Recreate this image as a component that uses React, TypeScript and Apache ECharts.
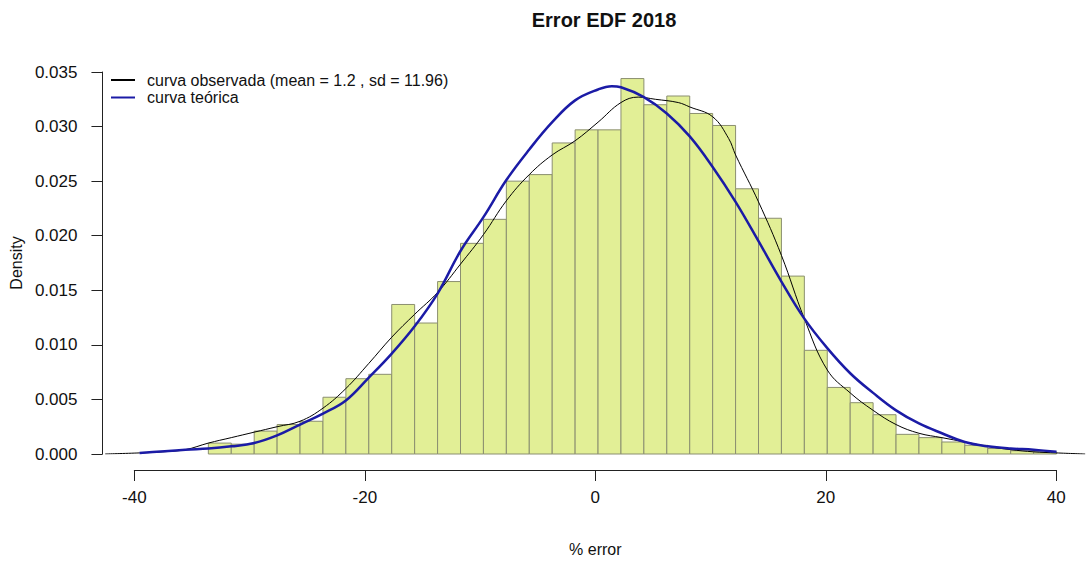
import React, { useEffect, useRef } from "react";
import * as echarts from "echarts";

// Histogram bins (left edge, right edge) and densities
const binStarts = [-34, -32, -30, -28, -26, -24, -22, -20, -18, -16, -14, -12, -10, -8, -6, -4, -2, 0, 2, 4, 6, 8, 10, 12, 14, 16, 18, 20, 22, 24, 26, 28, 30, 32, 34, 36, 38];
const binWidth = 2;
const binDensity = [0.0010, 0.0009, 0.0021, 0.0027, 0.0030, 0.0052, 0.0069, 0.0073, 0.0137, 0.0120, 0.0158, 0.0193, 0.0215, 0.0250, 0.0256, 0.0285, 0.0297, 0.0297, 0.0344, 0.0320, 0.0328, 0.0312, 0.0301, 0.0243, 0.0216, 0.0163, 0.0095, 0.0061, 0.0047, 0.0036, 0.0018, 0.0015, 0.0011, 0.0008, 0.0005, 0.0003, 0.0002];

const obsX = [-43, -40, -38, -36, -34, -32, -30, -28, -26, -24, -22, -20, -18, -16, -14, -12, -10, -8, -6, -4, -2, 0, 2, 3.5, 5, 7, 8, 10, 11.4, 12, 14, 16, 18, 20, 22, 24, 26, 28, 30, 32, 34, 36, 38, 40, 42.5];
const obsY = [0.0000, 0.0001, 0.0002, 0.0004, 0.0010, 0.0015, 0.0020, 0.0025, 0.0030, 0.0042, 0.0060, 0.0083, 0.0107, 0.0128, 0.0148, 0.0174, 0.0201, 0.0232, 0.0256, 0.0274, 0.0287, 0.0304, 0.0322, 0.0327, 0.0325, 0.0322, 0.0318, 0.0309, 0.0289, 0.0274, 0.0231, 0.0182, 0.0124, 0.0077, 0.0056, 0.0040, 0.0027, 0.0019, 0.0015, 0.0011, 0.0007, 0.0004, 0.0002, 0.0001, 0.0000];

// Theoretical curve
const theoX = [-40, -36, -34, -32, -30, -28, -26, -24, -22, -20, -18, -16, -14, -12, -10, -8, -6, -4, -2, 0, 1.2, 2, 4, 6, 8, 10, 12, 14, 16, 18, 20, 22, 24, 26, 28, 30, 32, 34, 36, 38, 40];
const theoY = [0.0001, 0.0004, 0.0005, 0.0007, 0.0010, 0.0017, 0.0027, 0.0037, 0.0049, 0.0070, 0.0092, 0.0117, 0.0147, 0.0186, 0.0217, 0.0251, 0.0279, 0.0304, 0.0324, 0.0334, 0.0337, 0.0336, 0.0327, 0.0312, 0.0291, 0.0263, 0.0231, 0.0195, 0.0158, 0.0124, 0.0097, 0.0074, 0.0056, 0.0040, 0.0028, 0.0019, 0.0011, 0.0007, 0.0005, 0.0004, 0.0002];

const xTicks = [-40, -20, 0, 20, 40];
const yTicks = [0, 0.005, 0.01, 0.015, 0.02, 0.025, 0.03, 0.035];

const titleText = "Error EDF 2018";
const obsName = "curva observada (mean = 1.2 , sd = 11.96)";
const theoName = "curva teórica";

const FONT = "'Liberation Sans', Arial, sans-serif";

export default function App() {
  const ref = useRef<HTMLDivElement>(null);
  useEffect(() => {
    if (!ref.current) return;
    const chart = echarts.init(ref.current, null, { renderer: "svg" });
    const bars = binStarts.map((s, i) => [s, s + binWidth, binDensity[i]]);
    const obs = obsX.map((x, i) => [x, obsY[i]]);
    const theo = theoX.map((x, i) => [x, theoY[i]]);
    chart.setOption({
      animation: false,
      backgroundColor: "#ffffff",
      textStyle: { fontFamily: FONT },
      grid: [
        { left: 97, top: 72, width: 989, height: 382 },
        { left: 134.3, top: 469, width: 922, height: 1 },
      ],
      xAxis: [
        {
          type: "value",
          gridIndex: 0,
          min: -43.24,
          max: -43.24 + 989 / 11.525,
          show: false,
        },
        {
          type: "value",
          gridIndex: 1,
          min: xTicks[0],
          max: xTicks[xTicks.length - 1],
          interval: 20,
          position: "bottom",
          axisLine: { show: true, onZero: false, lineStyle: { color: "#222", width: 1 } },
          axisTick: { show: true, length: 11, lineStyle: { color: "#222" } },
          splitLine: { show: false },
          axisLabel: { margin: 19, fontSize: 17, color: "#111", fontFamily: FONT },
          name: "% error",
          nameLocation: "middle",
          nameGap: 71,
          nameTextStyle: { fontSize: 16, color: "#111", fontFamily: FONT },
        },
      ],
      yAxis: [
        {
          type: "value",
          gridIndex: 0,
          min: yTicks[0],
          max: yTicks[yTicks.length - 1],
          interval: 0.005,
          position: "left",
          axisLine: { show: true, onZero: false, lineStyle: { color: "#222", width: 1 } },
          axisTick: { show: true, length: 11, lineStyle: { color: "#222" } },
          splitLine: { show: false },
          axisLabel: {
            margin: 25,
            fontSize: 17,
            color: "#111",
            fontFamily: FONT,
            formatter: (v: number) => v.toFixed(3),
          },
          name: "Density",
          nameLocation: "middle",
          nameGap: 63,
          nameRotate: 90,
          nameTextStyle: { fontSize: 16, color: "#111", fontFamily: FONT },
        },
        { type: "value", gridIndex: 1, min: 0, max: 1, show: false },
      ],
      legend: {
        orient: "vertical",
        left: 111,
        top: 72,
        padding: 0,
        itemWidth: 24,
        itemHeight: 2,
        itemGap: 1.5,
        icon: "rect",
        textStyle: { fontSize: 16, color: "#111", fontFamily: FONT, lineHeight: 16, padding: [0, 0, 0, 7] },
        data: [obsName, theoName],
      },
      graphic: [
        {
          type: "text",
          x: 604,
          y: 20,
          style: {
            text: titleText,
            font: `bold 20px ${FONT}`,
            fill: "#111",
            textAlign: "center",
            textVerticalAlign: "middle",
          },
        },
      ],
      series: [
        {
          type: "custom",
          name: "hist",
          xAxisIndex: 0,
          yAxisIndex: 0,
          encode: { x: [0, 1], y: 2 },
          data: bars,
          renderItem: (params: any, api: any) => {
            const p0 = api.coord([api.value(0), api.value(2)]);
            const p1 = api.coord([api.value(1), 0]);
            return {
              type: "rect",
              shape: { x: p0[0], y: p0[1], width: p1[0] - p0[0], height: p1[1] - p0[1] },
              style: { fill: "#e2ef96", stroke: "#8b8f70", lineWidth: 1 },
            };
          },
        },
        {
          type: "line",
          name: obsName,
          xAxisIndex: 0,
          yAxisIndex: 0,
          data: obs,
          smooth: 0.4,
          showSymbol: false,
          symbol: "none",
          color: "#000000",
          lineStyle: { color: "#000000", width: 1 },
        },
        {
          type: "line",
          name: theoName,
          xAxisIndex: 0,
          yAxisIndex: 0,
          data: theo,
          smooth: 0.4,
          showSymbol: false,
          symbol: "none",
          color: "#1b1ba6",
          lineStyle: { color: "#1b1ba6", width: 2.5 },
        },
      ],
    });
    return () => chart.dispose();
  }, []);
  return (
    <div
      ref={ref}
      style={{ position: "absolute", left: 0, top: 0, width: 1086, height: 565 }}
    />
  );
}
